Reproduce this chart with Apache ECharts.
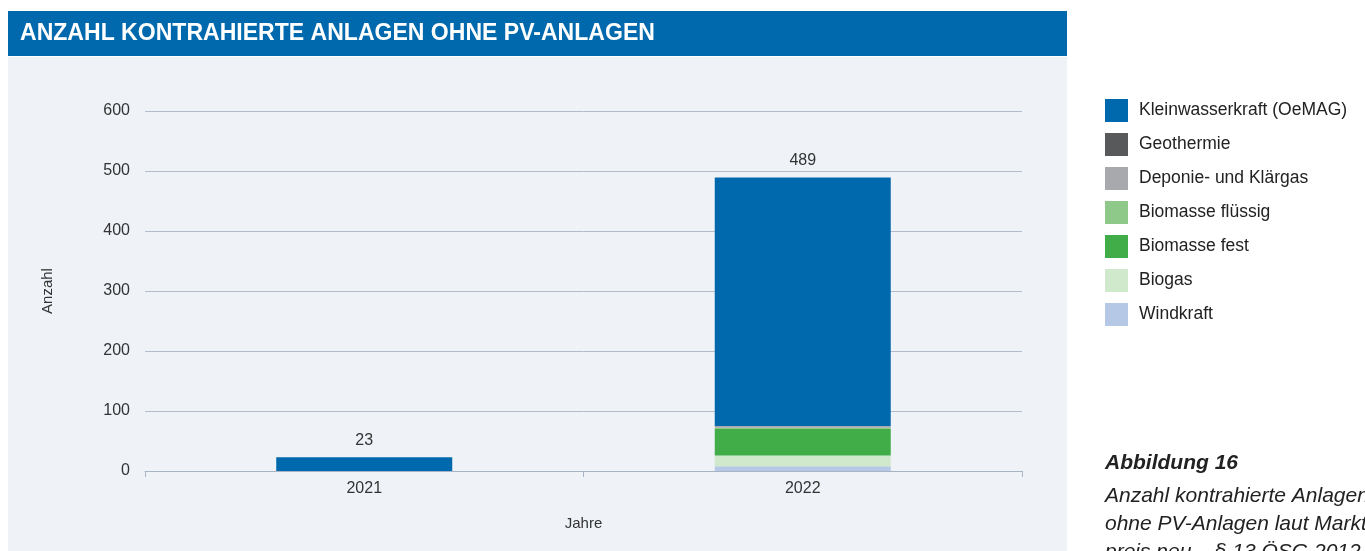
<!DOCTYPE html>
<html><head><meta charset="utf-8">
<script src="https://cdn.jsdelivr.net/npm/echarts@6/dist/echarts.min.js"></script>
<style>html,body{margin:0;padding:0;background:#fff}#c{width:1365px;height:551px}</style>
</head><body><div id="c"></div>
<script>
const years = ['2021', '2022'];
const seriesNames = ['Windkraft', 'Biogas', 'Biomasse fest', 'Biomasse flüssig', 'Deponie- und Klärgas', 'Geothermie', 'Kleinwasserkraft (OeMAG)'];
const windkraft = [0, 8];
const biogas = [0, 18];
const biomasseFest = [0, 44];
const biomasseFluessig = [0, 2];
const deponie = [0, 3];
const geothermie = [0, 0];
const kleinwasserkraft = [23, 414];
const yTicks = [0, 100, 200, 300, 400, 500, 600];
const colors = ['#b5c9e6', '#d0e8cc', '#41ad49', '#8fc98a', '#a7a9ac', '#58595b', '#0069ad'];
const legendOrder = ['Kleinwasserkraft (OeMAG)', 'Geothermie', 'Deponie- und Klärgas', 'Biomasse flüssig', 'Biomasse fest', 'Biogas', 'Windkraft'];

const values = [windkraft, biogas, biomasseFest, biomasseFluessig, deponie, geothermie, kleinwasserkraft];
const totals = years.map((_, i) => values.reduce((s, a) => s + a[i], 0));
const FF = '"Liberation Sans", Arial, sans-serif';

const chart = echarts.init(document.getElementById('c'));
const series = seriesNames.map((n, k) => ({
  name: n, type: 'bar', stack: 'total', barWidth: 176,
  data: values[k],
  itemStyle: { color: colors[k] },
  label: k === seriesNames.length - 1 ? {
    show: true, position: 'top', distance: 9, color: '#333', fontSize: 16,
    fontFamily: FF,
    formatter: p => String(totals[p.dataIndex])
  } : { show: false }
}));

chart.setOption({
  animation: false,
  graphic: [
    { type: 'rect', z: -10, shape: { x: 8, y: 57, width: 1059, height: 494 }, style: { fill: '#eff3f8' } },
    { type: 'rect', z: -10, shape: { x: 8, y: 11, width: 1059, height: 45 }, style: { fill: '#0069ad' } },
    { type: 'text', x: 20, y: 21, scaleX: 0.96, style: { text: 'ANZAHL KONTRAHIERTE ANLAGEN OHNE PV-ANLAGEN', fill: '#fff', font: 'bold 24px ' + FF } },
    { type: 'text', left: 1105, top: 453, style: { text: 'Abbildung 16', fill: '#222', font: 'italic bold 21px ' + FF } },
    { type: 'text', left: 1105, top: 482, style: { text: 'Anzahl kontrahierte Anlagen\nohne PV-Anlagen laut Markt-\npreis neu – § 13 ÖSG 2012', fill: '#222', lineHeight: 28, font: 'italic 21px ' + FF } }
  ],
  grid: { left: 145, right: 343, top: 111, bottom: 80 },
  legend: {
    orient: 'vertical', left: 1105, top: 99, padding: 0, itemWidth: 23, itemHeight: 23, itemGap: 11,
    data: legendOrder, icon: 'rect',
    textStyle: { fontSize: 17.5, color: '#222', fontFamily: FF, padding: [0, 0, 0, 6] }
  },
  xAxis: {
    type: 'category', data: years, name: 'Jahre', nameLocation: 'middle', nameGap: 45,
    nameTextStyle: { fontSize: 15, color: '#333', fontFamily: FF },
    axisLine: { lineStyle: { color: '#a9b3c6' } },
    axisTick: { show: true, length: 6, lineStyle: { color: '#a9b3c6' } },
    axisLabel: { fontSize: 16, color: '#333', margin: 10, fontFamily: FF }
  },
  yAxis: {
    type: 'value', min: yTicks[0], max: yTicks[yTicks.length - 1], interval: 100,
    name: 'Anzahl', nameLocation: 'middle', nameGap: 90, nameRotate: 90,
    nameTextStyle: { fontSize: 15, color: '#333', fontFamily: FF },
    axisLine: { show: false },
    axisTick: { show: false },
    splitLine: { lineStyle: { color: '#b3bccd' } },
    axisLabel: { fontSize: 16, color: '#333', margin: 15, fontFamily: FF }
  },
  series: series
});
</script></body></html>
